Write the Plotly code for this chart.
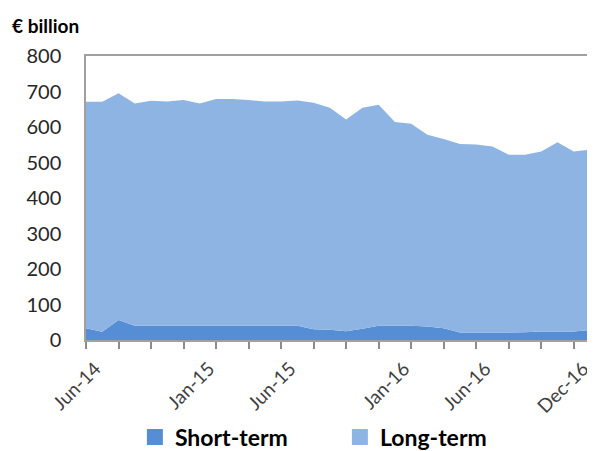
import plotly.graph_objects as go

months = ["May-14","Jun-14","Jul-14","Aug-14","Sep-14","Oct-14","Nov-14","Dec-14",
          "Jan-15","Feb-15","Mar-15","Apr-15","May-15","Jun-15","Jul-15","Aug-15",
          "Sep-15","Oct-15","Nov-15","Dec-15","Jan-16","Feb-16","Mar-16","Apr-16",
          "May-16","Jun-16","Jul-16","Aug-16","Sep-16","Oct-16","Nov-16","Dec-16"]
short_term = [33, 23, 56, 40, 40, 40, 40, 40, 40, 40, 40, 40, 40, 40, 30, 29,
              25, 32, 40, 40, 40, 38, 33, 21, 21, 21, 21, 22, 24, 24, 24, 28]
total = [671, 671, 695, 666, 674, 672, 676, 666, 679, 679, 676, 672, 672, 675, 668, 654,
         621, 654, 663, 614, 609, 578, 566, 552, 551, 545, 522, 522, 531, 557, 531, 536]
long_term = [t - s for t, s in zip(total, short_term)]
label_months = ["Jun-14", "Jan-15", "Jun-15", "Jan-16", "Jun-16", "Dec-16"]
series_names = ["Short-term", "Long-term"]
series_colors = ["#558ED5", "#8EB4E3"]

idx = list(range(len(months)))
label_idx = [months.index(m) for m in label_months]
mark_idx = idx[0:-1:2]

FONT = "Lato, 'Open Sans', sans-serif"

fig = go.Figure()
for name, vals, col in zip(series_names, [short_term, long_term], series_colors):
    fig.add_trace(go.Scatter(x=idx, y=vals, name=name, stackgroup="one",
                             mode="none", fillcolor=col, showlegend=False))
# legend swatches (square markers)
for name, col in zip(series_names, series_colors):
    fig.add_trace(go.Scatter(x=[idx[0]], y=[None], name=name, mode="markers",
                             marker=dict(symbol="square", size=17, color=col),
                             hoverinfo="skip"))
fig.add_trace(go.Scatter(x=[idx[0], idx[-1]], y=[None, None], xaxis="x2", yaxis="y",
                         showlegend=False, hoverinfo="skip", mode="none"))

# page body has an 8px default margin, so the figure is sized 8px smaller
fig.update_layout(
    width=587, height=443,
    margin=dict(l=78, r=5, t=48, b=111, autoexpand=False),
    plot_bgcolor="white", paper_bgcolor="white",
    font=dict(family=FONT, color="#262626", size=19),
    xaxis=dict(range=[idx[0], idx[-1]], tickvals=mark_idx, showticklabels=False,
               ticks="outside", ticklen=7, tickcolor="#8C8C8C", tickwidth=1.5,
               showline=True, linecolor="#A0A0A0", linewidth=1.5, mirror=True,
               showgrid=False, zeroline=False, automargin=False),
    xaxis2=dict(overlaying="x", matches="x", anchor="y", side="bottom",
                range=[idx[0], idx[-1]],
                tickvals=label_idx, ticktext=label_months, tickangle=-45,
                ticks="", showline=False, showgrid=False, zeroline=False,
                ticklabelstandoff=13, ticklabelshift=-7, ticklabeloverflow="allow",
                automargin=False, tickfont=dict(size=19, color="#404040")),
    yaxis=dict(range=[0, 800], dtick=100, showgrid=False, zeroline=False,
               showline=True, linecolor="#A0A0A0", linewidth=1.5, mirror=True,
               ticks="", ticklabelstandoff=19, automargin=False,
               tickfont=dict(size=20, color="#262626")),
    legend=dict(orientation="h", x=0.097, xanchor="left", y=-0.342, yanchor="middle",
                font=dict(size=23, color="#000000", family=FONT, weight="bold"),
                entrywidth=160, traceorder="normal", itemwidth=30),
    annotations=[dict(text="<b>€ billion</b>", xref="paper", yref="paper",
                      x=-0.151, y=1.06, xanchor="left", yanchor="bottom",
                      showarrow=False, font=dict(size=19, color="#000000"))],
)

fig.write_html("out.html")
